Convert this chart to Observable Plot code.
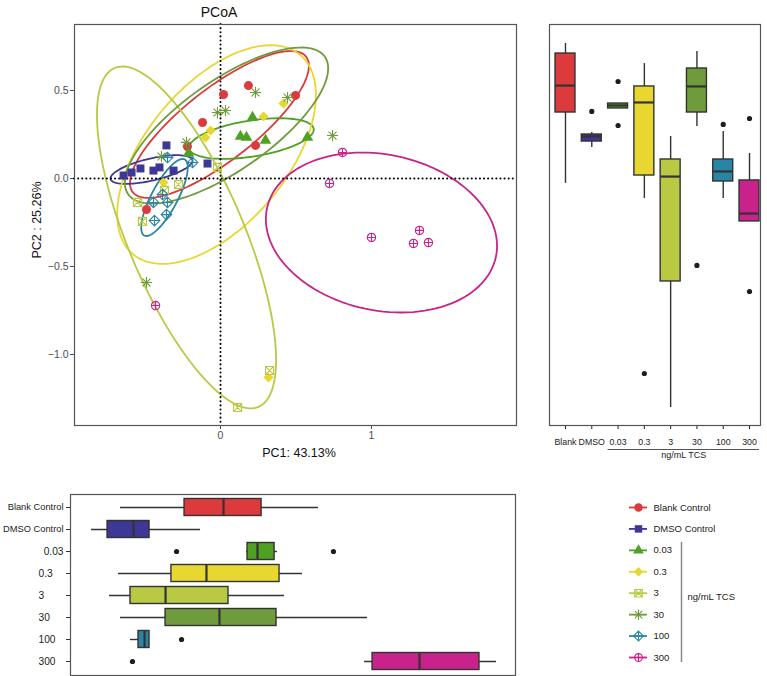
<!DOCTYPE html>
<html><head><meta charset="utf-8">
<script src="https://cdn.jsdelivr.net/npm/d3@7"></script>
<script src="https://cdn.jsdelivr.net/npm/@observablehq/plot@0.6"></script>
<style>
body{margin:0;background:#fff;font-family:'Liberation Sans',Arial,sans-serif;}
#wrap{position:relative;width:767px;height:676px;overflow:hidden;background:#fff}
#wrap svg{position:absolute;overflow:visible}
.lbl{position:absolute;white-space:pre;color:#111;line-height:1;transform:translate(-50%,-50%)}
</style></head><body>
<div id="wrap">
  <div class="lbl" style="left:219px;top:12px;font-size:14px">PCoA</div>
  <div class="lbl" style="left:299px;top:453px;font-size:12.5px">PC1: 43.13%</div>
  <div class="lbl" style="left:37px;top:220px;font-size:12.5px;transform:translate(-50%,-50%) rotate(-90deg)">PC2 : 25.26%</div>
</div>
<script>
// ---------- data ----------
const groups = ["Blank Control","DMSO Control","0.03","0.3","3","30","100","300"];
const shortGroups = ["Blank","DMSO","0.03","0.3","3","30","100","300"];

// PCoA points
const pointGroup = [
 "Blank Control","Blank Control","Blank Control","Blank Control","Blank Control","Blank Control","Blank Control",
 "DMSO Control","DMSO Control","DMSO Control","DMSO Control","DMSO Control","DMSO Control","DMSO Control","DMSO Control",
 "0.03","0.03","0.03","0.03","0.03","0.03",
 "0.3","0.3","0.3","0.3","0.3","0.3",
 "3","3","3","3","3","3","3",
 "30","30","30","30","30","30","30","30",
 "100","100","100","100","100","100","100",
 "300","300","300","300","300","300","300"];
const pointPC1 = [
 0.185,0.497,0.020,-0.119,-0.219,0.232,-0.490,
 -0.642,-0.589,-0.530,-0.444,-0.404,-0.311,-0.358,-0.086,
 0.212,0.132,0.172,0.298,0.576,-0.212,
 0.417,0.285,-0.066,-0.099,-0.377,0.318,
 -0.020,-0.278,-0.371,-0.550,-0.517,0.325,0.113,
 0.232,0.444,-0.020,0.033,-0.225,-0.391,0.742,-0.490,
 -0.351,-0.185,-0.384,-0.444,-0.351,-0.437,-0.358,
 0.808,0.722,1.000,1.318,1.278,1.377,-0.430];
const pointPC2 = [
 0.528,0.472,0.477,0.318,0.182,0.188,-0.176,
 0.017,0.034,0.057,0.045,0.063,0.045,0.188,0.085,
 0.347,0.239,0.233,0.216,0.233,0.142,
 0.426,0.352,0.273,0.233,-0.023,-1.131,
 0.063,-0.034,-0.068,-0.136,-0.244,-1.091,-1.301,
 0.489,0.460,0.375,0.386,0.205,0.125,0.244,-0.591,
 0.119,0.091,-0.091,-0.136,-0.136,-0.239,-0.205,
 0.148,-0.028,-0.335,-0.295,-0.369,-0.364,-0.722];

// confidence ellipses: centre and two conjugate semi-axis vectors (data units)
const ellCX = [-0.007,-0.457, 0.205,-0.026,-0.225, 0.040,-0.371, 1.066];
const ellCY = [ 0.307, 0.051, 0.227, 0.136,-0.335, 0.301,-0.108,-0.307];
const ellAX = [ 0.574, 0.271, 0.412, 0.554, 0.476, 0.651, 0.134, 0.758];
const ellAY = [ 0.385, 0.054, 0.056, 0.566,-0.963, 0.391, 0.216,-0.138];
const ellBX = [ 0.147, 0.016, 0.019, 0.355,-0.354, 0.171, 0.076,-0.107];
const ellBY = [-0.161,-0.061,-0.101,-0.256,-0.129,-0.209,-0.035,-0.433];

// right boxplot (PC2 per group)
const rbLow  = [-0.028,0.176,0.398,-0.114,-1.301,0.295,-0.114,-0.244];
const rbQ1   = [ 0.375,0.210,0.398, 0.017,-0.585,0.375,-0.017,-0.244];
const rbMed  = [ 0.528,0.239,0.415, 0.432, 0.011,0.523, 0.040,-0.199];
const rbQ3   = [ 0.710,0.250,0.426, 0.523, 0.108,0.625, 0.108,-0.011];
const rbHigh = [ 0.767,0.261,0.426, 0.653, 0.239,0.722, 0.267, 0.142];
const rbOutGroup = ["DMSO","0.03","0.03","0.3","30","100","300","300"];
const rbOutValue = [0.381,0.551,0.301,-1.108,-0.494,0.307,0.341,-0.642];

// bottom boxplot (PC1 per group)
const bbLow  = [-0.662,-0.854,0.172,-0.675,-0.735,-0.662,-0.596,0.954];
const bbQ1   = [-0.238,-0.748,0.179,-0.325,-0.596,-0.364,-0.543,1.007];
const bbMed  = [ 0.020,-0.576,0.245,-0.093,-0.364,-0.007,-0.503,1.318];
const bbQ3   = [ 0.272,-0.470,0.358, 0.391, 0.053, 0.371,-0.470,1.715];
const bbHigh = [ 0.649,-0.132,0.377, 0.543, 0.424, 0.974,-0.470,1.828];
const bbOutGroup = ["0.03","0.03","100","300"];
const bbOutValue = [-0.291,0.748,-0.258,-0.583];

const legendTitle = "ng/mL TCS";

// ---------- styles ----------
const colors = ["#dc3a3c","#3e3795","#4ea123","#e8d731","#b9c944","#6f9b3d","#2a85a5","#c9238b"];
const FONT = "'Liberation Sans', Arial, sans-serif";
const sym = f => ({draw: (ctx, size) => f(ctx, Math.sqrt(size / Math.PI))});
const symDiamond = sym((c, r) => {const d = r*1.12; c.moveTo(0,-d); c.lineTo(d,0); c.lineTo(0,d); c.lineTo(-d,0); c.closePath();});
const symSquareX = sym((c, r) => {const s = r*0.9; c.rect(-s,-s,2*s,2*s); c.moveTo(-s,-s); c.lineTo(s,s); c.moveTo(s,-s); c.lineTo(-s,s);});
const symAst = sym((c, r) => {const L = r*1.25; for (let k = 0; k < 4; k++) {const a = k*Math.PI/4; c.moveTo(-L*Math.cos(a), -L*Math.sin(a)); c.lineTo(L*Math.cos(a), L*Math.sin(a));}});
const symDiaPlus = sym((c, r) => {const d = r*1.15; c.moveTo(0,-d); c.lineTo(d,0); c.lineTo(0,d); c.lineTo(-d,0); c.closePath(); c.moveTo(-d,0); c.lineTo(d,0); c.moveTo(0,-d); c.lineTo(0,d);});
const symCircPlus = sym((c, r) => {const R = r*0.95; c.moveTo(R,0); c.arc(0,0,R,0,2*Math.PI); c.moveTo(-R,0); c.lineTo(R,0); c.moveTo(0,-R); c.lineTo(0,R);});
const SYMS = ["circle","square","triangle",symDiamond,symSquareX,symAst,symDiaPlus,symCircPlus];
const FILLED = [true,true,true,true,false,false,false,false];
const RAD = [4.5,4.5,4.3,4.5,4.5,4.5,4.6,4.4];

const wrap = document.getElementById("wrap");
function place(svg, left, top) { svg.style.left = left + "px"; svg.style.top = top + "px"; wrap.appendChild(svg); }

// ---------- main PCoA ----------
const pts = pointGroup.map((g, i) => ({g, x: pointPC1[i], y: pointPC2[i]}));
const ellPts = groups.flatMap((g, i) => d3.range(0, 361, 3).map(deg => {
  const t = deg * Math.PI / 180;
  return {g, x: ellCX[i] + ellAX[i]*Math.cos(t) + ellBX[i]*Math.sin(t),
             y: ellCY[i] + ellAY[i]*Math.cos(t) + ellBY[i]*Math.sin(t)};
}));
const yDom = [-1.4034, 0.875];
const dotStyle = (k) => FILLED[k] ? {fill: colors[k], stroke: "none"} : {fill: "none", stroke: colors[k], strokeWidth: 1.1};

const main = Plot.plot({
  width: 530, height: 450, marginLeft: 74, marginRight: 14, marginTop: 24, marginBottom: 25,
  style: {fontFamily: FONT, fontSize: "10.5px", color: "#4d4d4d", background: "transparent"},
  x: {domain: [-0.9669, 1.9603], ticks: [0, 1], tickFormat: d3.format("d"), tickSize: 4, tickPadding: 2, label: null},
  y: {domain: yDom, ticks: [-1, -0.5, 0, 0.5], tickFormat: d3.format(".1f"), tickSize: 4, tickPadding: 2, label: null},
  color: {domain: groups, range: colors},
  marks: [
    Plot.line(ellPts, {x: "x", y: "y", z: "g", stroke: "g", strokeWidth: 1.8}),
    Plot.ruleX([0], {stroke: "#000", strokeWidth: 2, strokeDasharray: "0.1 4", strokeLinecap: "round"}),
    Plot.ruleY([0], {stroke: "#000", strokeWidth: 2, strokeDasharray: "0.1 4", strokeLinecap: "round"}),
    ...groups.map((g, k) => Plot.dot(pts.filter(d => d.g === g), {x: "x", y: "y", symbol: SYMS[k], r: RAD[k], ...dotStyle(k)})),
    Plot.frame({stroke: "#555", strokeWidth: 1.2})
  ]
});
place(main, 0, 0);

// ---------- right boxplot ----------
const rb = shortGroups.map((g, i) => ({g, lo: rbLow[i], q1: rbQ1[i], med: rbMed[i], q3: rbQ3[i], hi: rbHigh[i]}));
const rbOut = rbOutGroup.map((g, i) => ({g, v: rbOutValue[i]}));
const right = Plot.plot({
  width: 227, height: 470, marginLeft: 9, marginRight: 7, marginTop: 24, marginBottom: 45,
  style: {fontFamily: FONT, fontSize: "8.8px", color: "#222", background: "transparent"},
  x: {type: "band", domain: shortGroups, range: [15, 219], round: false, paddingInner: 0.24, paddingOuter: 0, tickSize: 4, tickPadding: 9, label: null},
  y: {domain: yDom, axis: null},
  color: {domain: shortGroups, range: colors},
  marks: [
    Plot.ruleX(rb, {x: "g", y1: "lo", y2: "hi", stroke: "#333", strokeWidth: 1.4}),
    Plot.barY(rb, {x: "g", y1: "q1", y2: "q3", fill: "g", stroke: "#333", strokeWidth: 1.4}),
    Plot.tickY(rb, {x: "g", y: "med", stroke: "#333", strokeWidth: 2.2}),
    Plot.dot(rbOut, {x: "g", y: "v", r: 2.6, fill: "#1e1e1e"}),
    Plot.ruleY([{y: yDom[0], a: shortGroups[2], b: shortGroups[7]}], {y: "y", x1: "a", x2: "b", dy: 24, stroke: "#555", strokeWidth: 1}),
    Plot.text([legendTitle], {x: () => shortGroups[4], frameAnchor: "bottom", dx: 13, dy: 32, fontSize: 9, fill: "#222"}),
    Plot.frame({stroke: "#555", strokeWidth: 1.2})
  ]
});
place(right, 540, 0);

// ---------- bottom boxplot ----------
const bb = groups.map((g, i) => ({g, lo: bbLow[i], q1: bbQ1[i], med: bbMed[i], q3: bbQ3[i], hi: bbHigh[i]}));
const bbOut = bbOutGroup.map((g, i) => ({g, v: bbOutValue[i]}));
const bottom = Plot.plot({
  width: 530, height: 191, marginLeft: 70, marginRight: 15, marginTop: 9, marginBottom: 1,
  style: {fontFamily: FONT, fontSize: "9.3px", color: "#333", background: "transparent"},
  x: {domain: [-0.9934, 1.9536], axis: null},
  y: {type: "band", domain: groups, range: [13.5, 184.5], round: false, paddingInner: 0.227, paddingOuter: 0, tickSize: 4, tickFormat: () => "", label: null},
  color: {domain: groups, range: colors},
  marks: [
    Plot.ruleY(bb, {y: "g", x1: "lo", x2: "hi", stroke: "#333", strokeWidth: 1.4}),
    Plot.barX(bb, {y: "g", x1: "q1", x2: "q3", fill: "g", stroke: "#333", strokeWidth: 1.4}),
    Plot.tickX(bb, {y: "g", x: "med", stroke: "#333", strokeWidth: 2.2}),
    Plot.dot(bbOut, {y: "g", x: "v", r: 2.6, fill: "#1e1e1e"}),
    Plot.text(groups.slice(0, 2), {y: d => d, text: d => d, frameAnchor: "left", dx: -7, textAnchor: "end", fontSize: 9.3, fill: "#222"}),
    Plot.text(groups.slice(2, 3), {y: d => d, text: d => d, frameAnchor: "left", dx: -7, textAnchor: "end", fontSize: 10.2, fill: "#222"}),
    Plot.text(groups.slice(3), {y: d => d, text: d => d, frameAnchor: "left", dx: -32, textAnchor: "start", fontSize: 10.2, fill: "#222"}),
    Plot.frame({stroke: "#555", strokeWidth: 1.2})
  ]
});
place(bottom, 0, 485);

// ---------- legend ----------
const legend = Plot.plot({
  width: 167, height: 175, marginLeft: 29, marginRight: 120, marginTop: 0, marginBottom: 0,
  style: {fontFamily: FONT, fontSize: "9.5px", color: "#222", background: "transparent"},
  x: {domain: [0, 1], axis: null},
  y: {type: "point", domain: groups, range: [12, 162], padding: 0, round: false, axis: null},
  color: {domain: groups, range: colors},
  marks: [
    Plot.ruleY(groups, {y: d => d, stroke: d => d, strokeWidth: 1.8}),
    ...groups.map((g, k) => Plot.dot([g], {y: d => d, symbol: SYMS[k], r: RAD[k] - 0.3, ...dotStyle(k)})),
    Plot.text(groups, {y: d => d, text: d => d, frameAnchor: "right", dx: 6, textAnchor: "start", fontSize: 9.5, fill: "#222"}),
    Plot.ruleX([1], {y1: () => groups[2], y2: () => groups[7], dx: 34, stroke: "#888", strokeWidth: 1.5, insetTop: -8, insetBottom: -5}),
    Plot.text([legendTitle], {y: () => groups[4], text: d => d, frameAnchor: "right", dx: 40, dy: 4, textAnchor: "start", fontSize: 9.5, fill: "#222"})
  ]
});
place(legend, 600, 495);
</script>
</body></html>
